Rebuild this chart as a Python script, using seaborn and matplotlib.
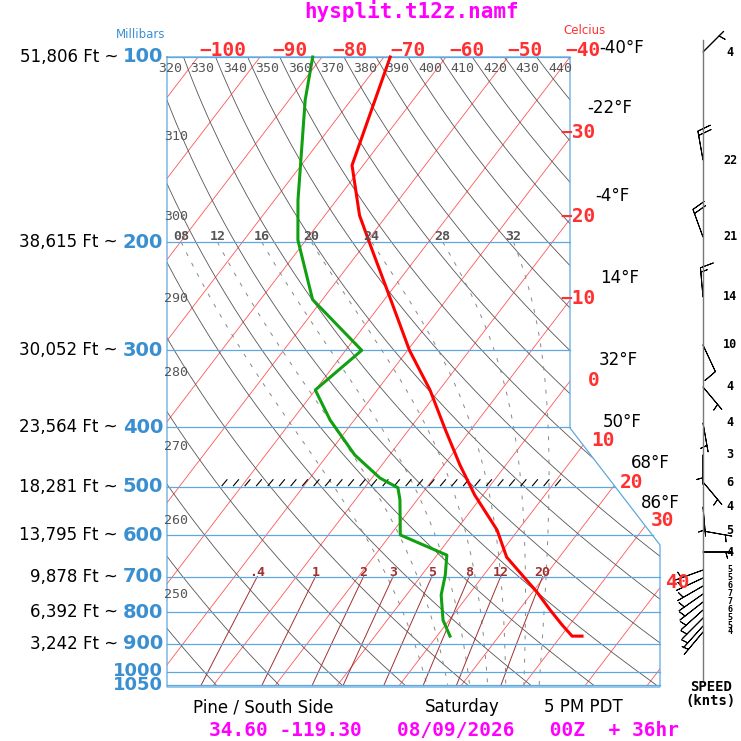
import numpy as np
import pandas as pd
import matplotlib
matplotlib.use("Agg")
import matplotlib.pyplot as plt
from matplotlib.patches import Polygon
import seaborn as sns

# sounding (pressure mb, temperature C, dewpoint C)
TEMP_P = [100, 150, 181, 206, 248, 300, 348, 404, 461, 516, 588, 651, 696, 742, 793, 839, 875, 875]
TEMP_T = [-69.0, -61.8, -54.4, -48.1, -39.0, -29.7, -21.5, -14.1, -7.4, -1.3, 6.6, 11.5, 16.2, 20.7, 25.0, 28.8, 31.8, 33.4]
DEW_P = [100, 117.5, 171, 198.5, 248, 300, 348, 389.5, 444, 484, 502, 525, 599, 646, 696, 750, 824, 875]
DEW_T = [-81.5, -77.4, -66.2, -61.3, -51.6, -37.4, -40.0, -33.9, -25.6, -18.7, -14.6, -12.8, -8.4, 1.6, 3.8, 5.6, 9.0, 12.1]

ISOBARS = [100, 200, 300, 400, 500, 600, 700, 800, 900, 1000, 1050]
ALTITUDES = ["51,806 Ft ~", "38,615 Ft ~", "30,052 Ft ~", "23,564 Ft ~", "18,281 Ft ~",
             "13,795 Ft ~", "9,878 Ft ~", "6,392 Ft ~", "3,242 Ft ~"]
THETAS = list(range(320, 450, 10))
THETA_W = [8, 12, 16, 20, 24, 28, 32]
MIXING = [0.4, 1, 2, 3, 5, 8, 12, 20]
MIXING_LABELS = [".4", "1", "2", "3", "5", "8", "12", "20"]
FAHRENHEIT = ["-40°F", "-22°F", "-4°F", "14°F", "32°F", "50°F", "68°F", "86°F"]

WIND_Y = [52, 160, 237, 297, 345, 387, 423, 455, 482, 507, 531, 552,
          570, 578, 586, 594, 602, 610, 618, 626, 632]
WIND_SPD = [4, 22, 21, 14, 10, 4, 4, 3, 6, 4, 5, 4, 5, 5, 6, 7, 7, 6, 5, 5, 4]
WIND_DIR = [45, 350, 340, 355, 155, 140, 170, 180, 140, 175, 100, 90,
            250, 245, 240, 235, 232, 228, 225, 222, 220]

BLUE = "#5ea8df"
RED = "#ff3030"

# small drawing offsets so the labels sit where the original places them
MIX_SHIFT = [31, 27, 24, 22, 19, 16, 11, 5]
MOIST_SHIFT = [26, 23, 21, 15, 9, 3, -6]


def ypix(p):
    return 57 + 267 * np.log(np.asarray(p, float) / 100.0)


def xpix(t, p):
    return 570 + 6.2 * (np.asarray(t, float) + 40) - 0.765 * (ypix(p) - 57)


def right_edge(y):
    if y < 428:
        return 570
    if y < 545:
        return 570 + (y - 428) * 90 / 117
    return 660


def es(tc):
    return 6.112 * np.exp(17.67 * tc / (tc + 243.5))


def dtdp(T, p):
    e = es(T - 273.15)
    rs = 0.622 * e / (p - e)
    return (287.0 * T + 2.5e6 * rs) / (p * (1004.0 + 2.5e6 ** 2 * rs * 0.622 / (287.0 * T ** 2)))


def moist_adiabat(tw, ps):
    grid_p = []
    grid_t = []
    T = tw + 273.15
    for p in np.arange(1000, 190, -1.0):
        grid_p.append(p)
        grid_t.append(T)
        T -= dtdp(T, p)
    T = tw + 273.15
    for p in np.arange(1001, 1060, 1.0):
        T += dtdp(T, p)
        grid_p.append(p)
        grid_t.append(T)
    order = np.argsort(grid_p)
    return np.interp(ps, np.array(grid_p)[order], np.array(grid_t)[order]) - 273.15


fig = plt.figure(figsize=(7.41, 7.41), dpi=100)
ax = fig.add_axes([0, 0, 1, 1])

frame = [(167, 57), (570, 57), (570, 428), (660, 545), (660, 687), (167, 687)]
clip = Polygon(frame, closed=True, transform=ax.transData, facecolor="none", edgecolor="none")
ax.add_patch(clip)

pp = np.linspace(100, 1050, 200)

# isotherms
for t in range(-160, 60, 10):
    l, = ax.plot(xpix(t, pp), ypix(pp), color="#ff5555", lw=0.6)
    l.set_clip_path(clip)

# dry adiabats
for th in range(200, 500, 10):
    tk = th * (pp / 1000.0) ** 0.286 - 273.15
    l, = ax.plot(xpix(tk, pp), ypix(pp), color="#555555", lw=0.6)
    l.set_clip_path(clip)

# moist adiabats
pm = np.linspace(200, 1050, 120)
for tw, sh in zip(THETA_W, MOIST_SHIFT):
    tm = moist_adiabat(tw, pm)
    l, = ax.plot(xpix(tm, pm) + sh, ypix(pm), color="#888888", lw=0.7, ls=(0, (4, 8)))
    l.set_clip_path(clip)
    ax.text(float(xpix(tm[0], 200)) + sh, 236, f"{tw:02d}", color="#555555", fontsize=9.5,
            family="DejaVu Sans Mono", fontweight="bold", ha="center", va="center")

# mixing ratio lines
pw = np.linspace(700, 1050, 40)
for w, lab, sh in zip(MIXING, MIXING_LABELS, MIX_SHIFT):
    e = w * pw / (622 + w)
    ln = np.log(e / 6.112)
    td = 243.5 * ln / (17.67 - ln)
    l, = ax.plot(xpix(td, pw) + sh, ypix(pw), color="#a03030", lw=0.7)
    l.set_clip_path(clip)
    ax.text(float(xpix(td[0], 700)) + sh, 572, lab, color="#a03030", fontsize=9.5,
            family="DejaVu Sans Mono", fontweight="bold", ha="center", va="center")

# isobars
for p in ISOBARS:
    y = float(ypix(p))
    ax.plot([167, right_edge(y)], [y, y], color=BLUE, lw=0.9)

# frame
fx, fy = zip(*(frame + [frame[0]]))
ax.plot(fx, fy, color=BLUE, lw=0.9)

# freezing level hatch at 500
y5 = float(ypix(500))
for x in np.arange(222, 556, 11.5):
    ax.plot([x, x + 5], [y5 - 1, y5 - 7], color="black", lw=0.8)

# sounding
temp = pd.DataFrame({"x": xpix(TEMP_T, TEMP_P), "y": ypix(TEMP_P)})
dew = pd.DataFrame({"x": xpix(DEW_T, DEW_P), "y": ypix(DEW_P)})
sns.lineplot(data=temp, x="x", y="y", sort=False, estimator=None, color="#ff0000", lw=2.2, ax=ax)
sns.lineplot(data=dew, x="x", y="y", sort=False, estimator=None, color="#11a011", lw=2.2, ax=ax)

# theta labels
for th in THETAS:
    tk = th * (0.105) ** 0.286 - 273.15
    ax.text(float(xpix(tk, 105)) + 14, 68, str(th), color="#555555", fontsize=9.5,
            family="DejaVu Sans Mono", ha="center", va="center")
left_y = {310: 136, 300: 217, 290: 298, 280: 373, 270: 447, 260: 521, 250: 594}
for th, y in left_y.items():
    ax.text(164, y, str(th), color="#555555", fontsize=9.5, family="DejaVu Sans Mono",
            ha="left", va="center")

# pressure and altitude labels
for i, p in enumerate(ISOBARS):
    y = float(ypix(p))
    if p == 1000:
        y -= 1
    fs = 13 if p >= 1000 else 14
    ax.text(163, y, str(p), color="#3a8fd0", fontsize=fs, fontweight="bold",
            ha="right", va="center")
    if i < len(ALTITUDES):
        ax.text(118, y, ALTITUDES[i], color="black", fontsize=12, ha="right", va="center")

# temperature labels
for t, xc in zip(range(-100, -30, 10), [223, 290, 350, 408, 467, 525, 583]):
    ax.text(xc, 50, str(t).replace("-", "\u2212"), color=RED, fontsize=14, fontweight="bold",
            family="DejaVu Sans Mono", ha="center", va="center")
right_lab = [(-30, 560, 132), (-20, 560, 216), (-10, 560, 298), (0, 594, 381),
             (10, 603, 441), (20, 632, 482), (30, 662, 521), (40, 678, 582)]
for t, xl, yl in right_lab:
    ax.text(xl, yl, str(t).replace("-", "\u2212"), color=RED, fontsize=14, fontweight="bold",
            family="DejaVu Sans Mono", ha="center" if t >= 0 else "left", va="center")
f_pos = [(622, 48), (610, 108), (612, 196), (620, 278), (618, 360), (622, 422), (650, 463), (660, 503)]
for lab, (xf, yf) in zip(FAHRENHEIT, f_pos):
    ax.text(xf, yf, lab, color="black", fontsize=12, ha="center", va="center")

# winds
ax.plot([703, 703], [40, 680], color="#777777", lw=1)
d = np.radians(WIND_DIR)
spd = np.array(WIND_SPD, float)
u = -np.sin(d) * spd
v = -np.cos(d) * spd
ax.barbs(np.full(len(WIND_Y), 703.0), WIND_Y, u, v, length=6.5, linewidth=0.7,
         color="black", sizes=dict(emptybarb=0, spacing=0.15, height=0.45))
for y, s in zip(WIND_Y, WIND_SPD):
    fs = 8.5 if y < 565 else 6
    ax.text(730, y, str(s), fontsize=fs, family="DejaVu Sans Mono", fontweight="bold",
            ha="center", va="center")
ax.text(711, 687, "SPEED", fontsize=10, family="DejaVu Sans Mono", fontweight="bold", ha="center", va="center")
ax.text(711, 701, "(knts)", fontsize=10, family="DejaVu Sans Mono", fontweight="bold", ha="center", va="center")

# titles
ax.text(412, 11, "hysplit.t12z.namf", color="#ff00ff", fontsize=15, fontweight="bold",
        family="DejaVu Sans Mono", ha="center", va="center")
ax.text(141, 34, "Millibars", color="#3a8fd0", fontsize=8.5, ha="center", va="center")
ax.text(585, 31, "Celcius", color=RED, fontsize=8.5, ha="center", va="center")
ax.text(263, 707, "Pine / South Side", fontsize=12, ha="center", va="center")
ax.text(462, 707, "Saturday", fontsize=12, ha="center", va="center")
ax.text(583, 707, "5 PM PDT", fontsize=12, ha="center", va="center")
ax.text(444, 731, "34.60 -119.30   08/09/2026   00Z  + 36hr", color="#ff00ff", fontsize=14,
        fontweight="bold", family="DejaVu Sans Mono", ha="center", va="center")

ax.set_xlim(0, 741)
ax.set_ylim(741, 0)
ax.axis("off")
fig.savefig("out.png", dpi=100)
